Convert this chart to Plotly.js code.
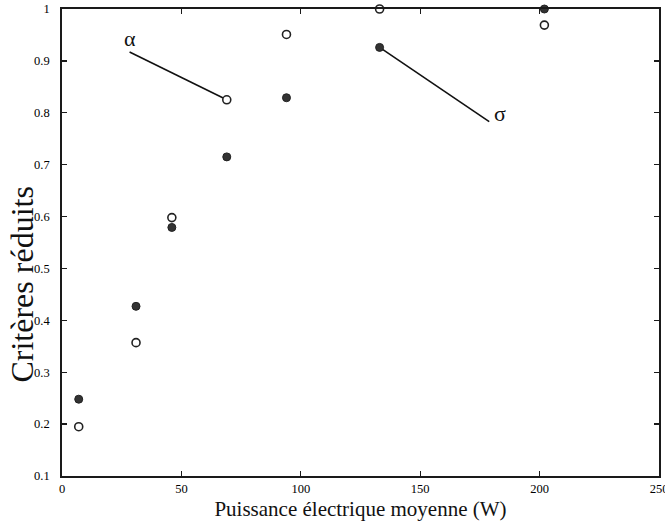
<!DOCTYPE html>
<html>
<head>
<meta charset="utf-8">
<script src="https://cdn.plot.ly/plotly-3.0.1.min.js"></script>
<style>html,body{margin:0;padding:0;background:#fff}#chart{width:665px;height:529px}</style>
</head>
<body>
<div id="chart"></div>
<script>
// Data
var puissance = [7, 31, 46, 69, 94, 133, 202];
var sigmaVals = [0.248, 0.427, 0.579, 0.715, 0.829, 0.926, 1.0];   // filled circles
var alphaVals = [0.195, 0.357, 0.598, 0.825, 0.951, 1.0, 0.969];   // open circles
var xTicks = [0, 50, 100, 150, 200, 250];
var yTicks = [0.1, 0.2, 0.3, 0.4, 0.5, 0.6, 0.7, 0.8, 0.9, 1];
var yTickText = ['0.1','0.2','0.3','0.4','0.5','0.6','0.7','0.8','0.9','1'];
var xTitle = 'Puissance électrique moyenne (W)';
var yTitle = 'Critères réduits';

var alphaIdx = 3, sigmaIdx = 5;

var traces = [
  {x: puissance, y: sigmaVals, mode: 'markers', type: 'scatter', name: 'σ',
   marker: {symbol: 'circle', size: 8, color: '#333', line: {color: '#222', width: 1}}, cliponaxis: false},
  {x: puissance, y: alphaVals, mode: 'markers', type: 'scatter', name: 'α',
   marker: {symbol: 'circle', size: 8, color: '#fff', line: {color: '#222', width: 1.6}}, cliponaxis: false}
];

var fontSerif = 'Liberation Serif, DejaVu Serif, serif';
var layout = {
  width: 665, height: 529,
  margin: {l: 62, r: 6, t: 9, b: 53},
  paper_bgcolor: '#fff', plot_bgcolor: '#fff',
  showlegend: false,
  font: {family: fontSerif, color: '#000'},
  xaxis: {
    range: [0, 250], tickvals: xTicks, ticks: 'inside', ticklen: 5, tickwidth: 1.4, tickcolor: '#1a1a1a',
    showline: true, linecolor: '#1a1a1a', linewidth: 1.8, mirror: 'ticks', showgrid: false, zeroline: false,
    ticklabeloverflow: 'allow',
    tickfont: {family: fontSerif, size: 12.5, color: '#000'},
    title: {text: xTitle, font: {family: fontSerif, size: 21, color: '#111'}, standoff: 6}
  },
  yaxis: {
    range: [0.1, 1], tickvals: yTicks, ticktext: yTickText, ticks: 'inside', ticklen: 5, tickwidth: 1.4, tickcolor: '#1a1a1a',
    showline: true, linecolor: '#1a1a1a', linewidth: 1.8, mirror: 'ticks', showgrid: false, zeroline: false,
    tickfont: {family: fontSerif, size: 12.5, color: '#000'}, ticklabelstandoff: 8
  },
  shapes: [
    {type: 'line', xref: 'x', yref: 'y', x0: 28.3, y0: 0.917, x1: puissance[alphaIdx], y1: alphaVals[alphaIdx],
     line: {color: '#111', width: 1.6}, layer: 'below'},
    {type: 'line', xref: 'x', yref: 'y', x0: puissance[sigmaIdx], y0: sigmaVals[sigmaIdx], x1: 178.9, y1: 0.783,
     line: {color: '#111', width: 1.6}, layer: 'below'}
  ],
  annotations: [
    {x: 28.3, y: 0.944, xref: 'x', yref: 'y', text: 'α', showarrow: false,
     font: {family: fontSerif, size: 22, color: '#111'}},
    {x: 183.6, y: 0.798, xref: 'x', yref: 'y', text: 'σ', showarrow: false,
     font: {family: fontSerif, size: 22, color: '#111'}},
    {x: -0.067, y: 0.41, xref: 'paper', yref: 'paper', text: yTitle, textangle: -90, showarrow: false,
     xanchor: 'center', yanchor: 'middle', font: {family: fontSerif, size: 32, color: '#111'}}
  ]
};

Plotly.newPlot('chart', traces, layout, {displayModeBar: false, staticPlot: true});
</script>
</body>
</html>
